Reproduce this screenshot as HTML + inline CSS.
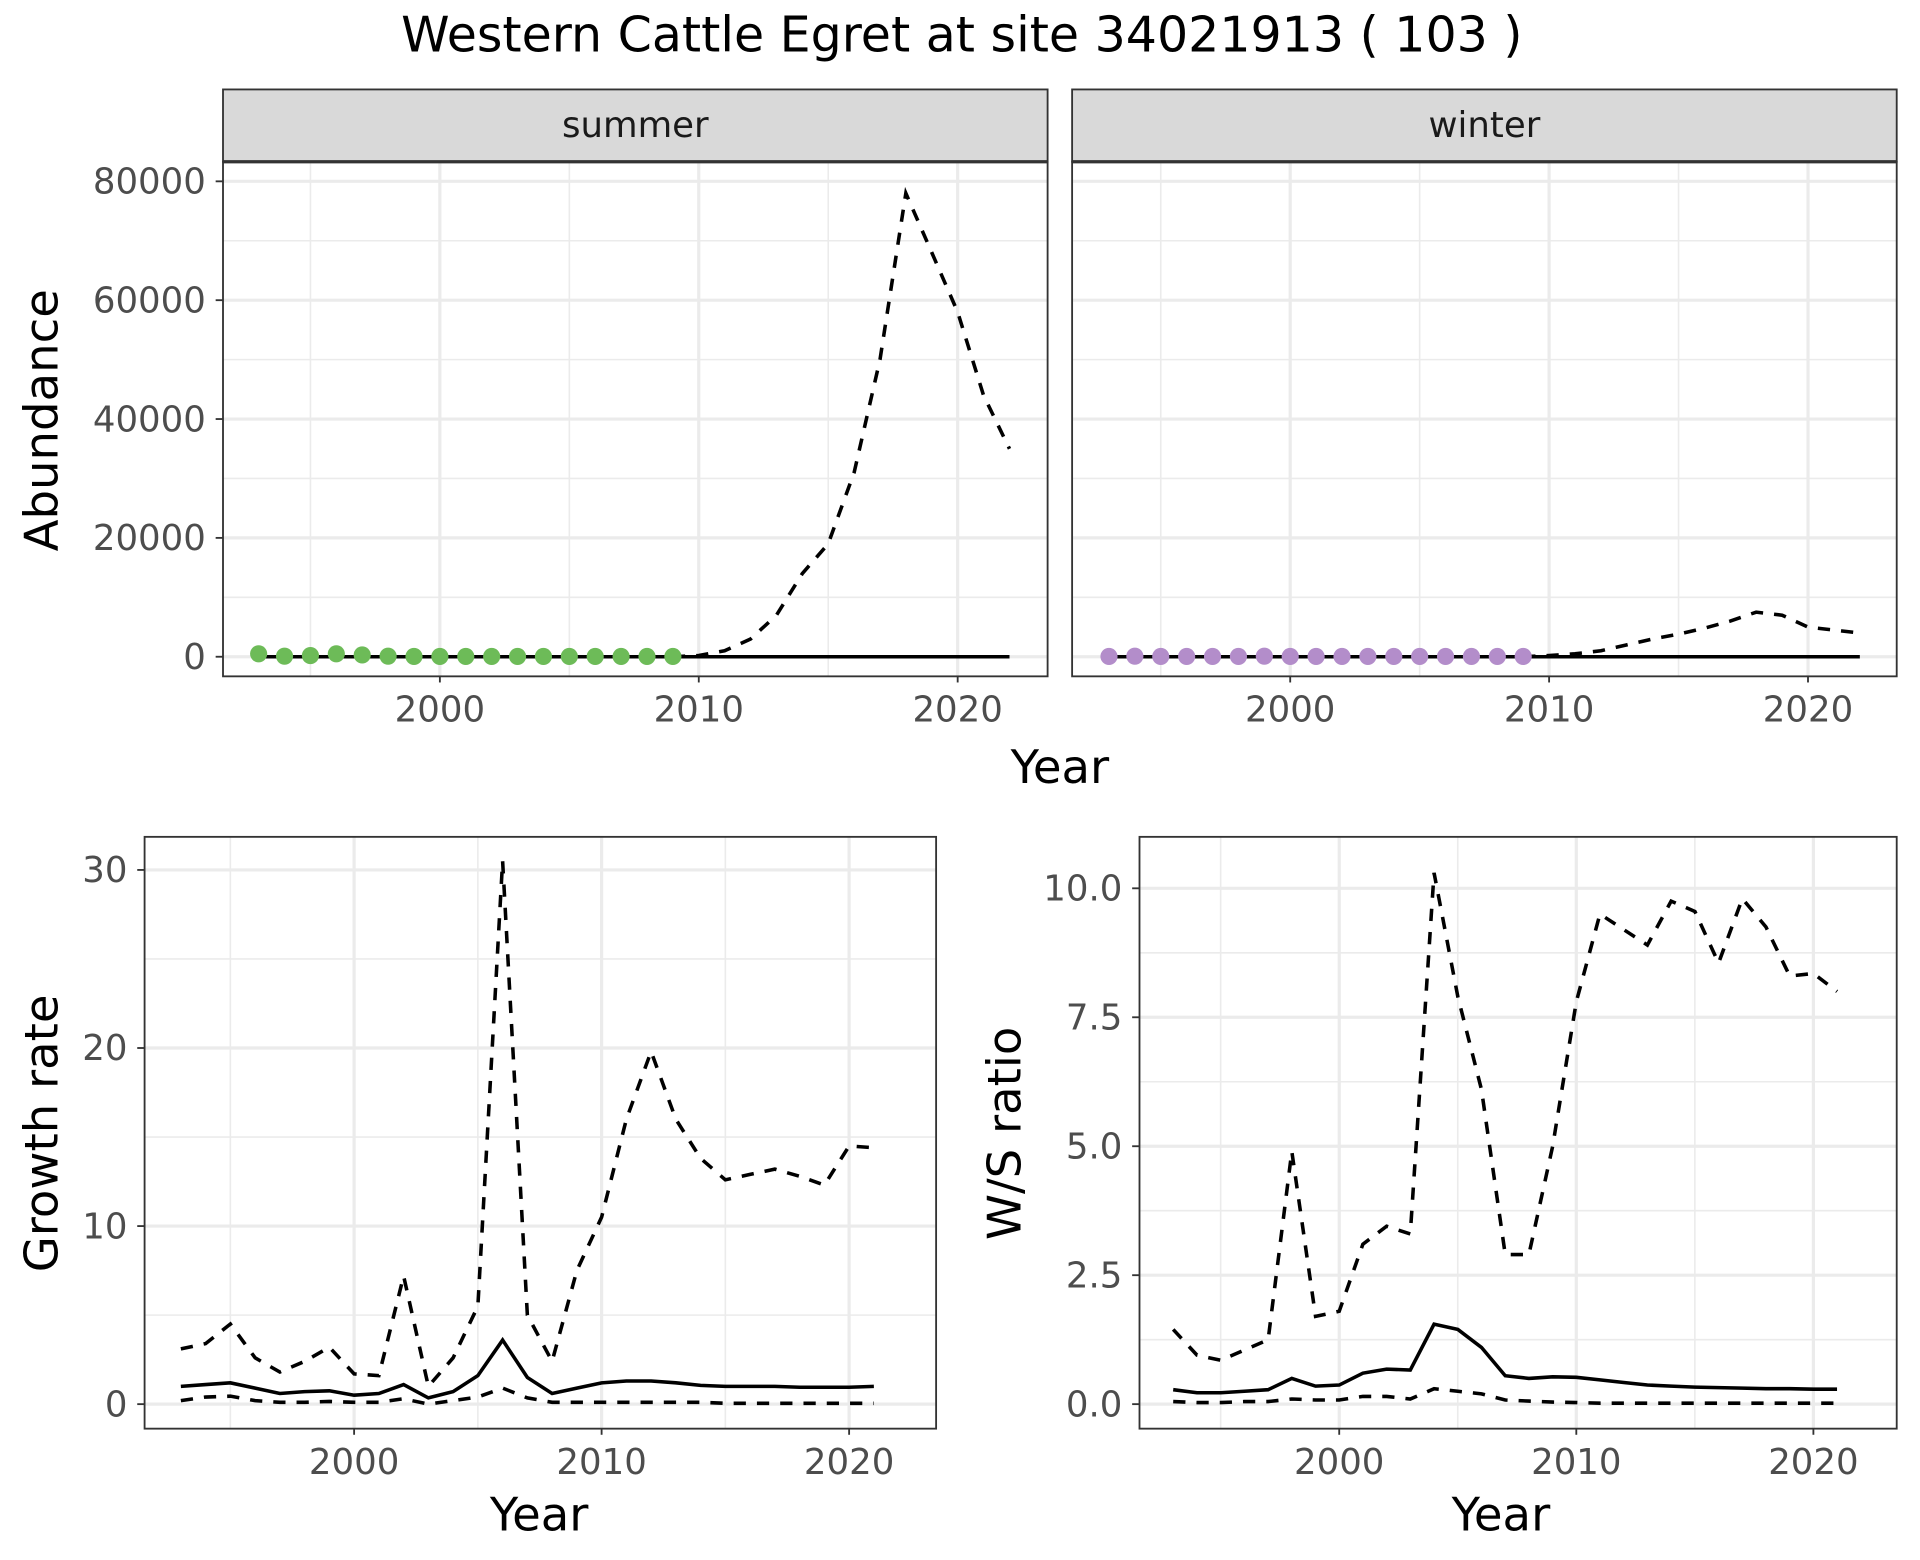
<!DOCTYPE html>
<html><head><meta charset="utf-8"><style>
html,body{margin:0;padding:0;background:#fff}
svg{display:block;font-family:"DejaVu Sans","Liberation Sans",sans-serif}
</style></head><body>
<svg id="c" width="1920" height="1560" viewBox="0 0 1567 1273.2" xmlns="http://www.w3.org/2000/svg"></svg>
<script>
const years = [1993,1994,1995,1996,1997,1998,1999,2000,2001,2002,2003,2004,2005,2006,2007,2008,2009,2010,2011,2012,2013,2014,2015,2016,2017,2018,2019,2020,2021,2022];
const obsYears = [1993,1994,1995,1996,1997,1998,1999,2000,2001,2002,2003,2004,2005,2006,2007,2008,2009];
const summerObs = [500,100,200,500,300,100,50,50,50,50,50,50,50,50,50,50,50];
const winterObs = [50,100,50,50,50,50,100,50,50,50,50,50,50,50,50,50,50];
const projYears = [2009,2010,2011,2012,2013,2014,2015,2016,2017,2018,2019,2020,2021,2022];
const summerUpper = [0,200,1000,3000,7000,14000,19000,31000,50000,78000,68000,58000,44000,35000];
const summerMid = [0,0,0,0,0,0,0,0,0,0,0,0,0,0];
const winterUpper = [0,200,500,1000,2000,3000,3800,4800,6000,7500,7000,5000,4500,4000];
const winterMid = [0,0,0,0,0,0,0,0,0,0,0,0,0,0];
const grYears = [1993,1994,1995,1996,1997,1998,1999,2000,2001,2002,2003,2004,2005,2006,2007,2008,2009,2010,2011,2012,2013,2014,2015,2016,2017,2018,2019,2020,2021];
const grUpper = [3.1,3.4,4.5,2.6,1.8,2.4,3.2,1.7,1.6,7.2,1.0,2.6,5.5,30.5,5.0,2.4,7.5,10.5,16,19.8,16.0,13.8,12.6,12.9,13.2,12.8,12.3,14.5,14.4];
const grMid = [1.0,1.1,1.2,0.9,0.6,0.7,0.75,0.5,0.6,1.1,0.35,0.7,1.6,3.6,1.5,0.6,0.9,1.2,1.3,1.3,1.2,1.05,1.0,1.0,1.0,0.95,0.95,0.95,1.0];
const grLower = [0.2,0.4,0.45,0.2,0.1,0.1,0.15,0.1,0.1,0.3,0.0,0.2,0.4,0.9,0.35,0.1,0.1,0.1,0.1,0.1,0.1,0.1,0.05,0.05,0.05,0.05,0.05,0.05,0.05];
const wsUpper = [1.45,0.95,0.85,1.05,1.25,4.9,1.7,1.8,3.1,3.45,3.3,10.3,7.9,6.1,2.9,2.9,5.0,7.8,9.5,9.2,8.9,9.75,9.55,8.55,9.8,9.25,8.3,8.35,8.0];
const wsMid = [0.28,0.22,0.22,0.25,0.28,0.5,0.35,0.37,0.6,0.68,0.66,1.55,1.45,1.1,0.55,0.5,0.53,0.52,0.47,0.42,0.37,0.35,0.33,0.32,0.31,0.3,0.3,0.29,0.29];
const wsLower = [0.05,0.03,0.03,0.05,0.05,0.1,0.08,0.08,0.15,0.15,0.1,0.3,0.25,0.2,0.08,0.06,0.04,0.03,0.02,0.02,0.02,0.02,0.02,0.02,0.02,0.02,0.02,0.02,0.02];
const xTicks = [2000,2010,2020];
const abTicks = [0,20000,40000,60000,80000];
const abLabels = ["0","20000","40000","60000","80000"];
const grTicks = [0,10,20,30];
const grLabels = ["0","10","20","30"];
const wsTicks = [0,2.5,5,7.5,10];
const wsLabels = ["0.0","2.5","5.0","7.5","10.0"];

const svg = document.getElementById('c');
const NS = 'http://www.w3.org/2000/svg';
function mk(tag, attrs, parent){const e=document.createElementNS(NS,tag);for(const k in attrs)e.setAttribute(k,attrs[k]);(parent||svg).appendChild(e);return e;}
function lin(d0,d1,r0,r1){return v=>r0+(v-d0)/(d1-d0)*(r1-r0);}

function panel(o){
  const g=mk('g',{});
  
  
  mk('rect',{x:o.x0,y:o.y0,width:o.x1-o.x0,height:o.y1-o.y0,fill:'#fff'},g);
  for(let i=0;i<o.yt.length-1;i++){const v=(o.yt[i]+o.yt[i+1])/2;mk('line',{x1:o.x0,x2:o.x1,y1:o.sy(v),y2:o.sy(v),stroke:'#ebebeb','stroke-width':1.3},g);}
  const topMinor=o.yt[o.yt.length-1]+(o.yt[1]-o.yt[0])/2; if(o.sy(topMinor)>o.y0) mk('line',{x1:o.x0,x2:o.x1,y1:o.sy(topMinor),y2:o.sy(topMinor),stroke:'#ebebeb','stroke-width':1.3},g);
  for(const v of [1995,2005,2015]){mk('line',{x1:o.sx(v),x2:o.sx(v),y1:o.y0,y2:o.y1,stroke:'#ebebeb','stroke-width':1.3},g);}
  o.yt.forEach(v=>mk('line',{x1:o.x0,x2:o.x1,y1:o.sy(v),y2:o.sy(v),stroke:'#ebebeb','stroke-width':2.6},g));
  xTicks.forEach(v=>mk('line',{x1:o.sx(v),x2:o.sx(v),y1:o.y0,y2:o.y1,stroke:'#ebebeb','stroke-width':2.6},g));
  o.draw(g);
  mk('rect',{x:o.x0,y:o.y0,width:o.x1-o.x0,height:o.y1-o.y0,fill:'none',stroke:'#333','stroke-width':1.5},g);
  xTicks.forEach(v=>{mk('line',{x1:o.sx(v),x2:o.sx(v),y1:o.y1,y2:o.y1+5,stroke:'#333','stroke-width':1.5},g);
    const t=mk('text',{x:o.sx(v),y:o.y1+37,'text-anchor':'middle','font-size':29,fill:'#4d4d4d'},g);t.textContent=v;});
  if(o.ylab){o.yt.forEach((v,i)=>{mk('line',{x1:o.x0-6,x2:o.x0,y1:o.sy(v),y2:o.sy(v),stroke:'#333','stroke-width':1.5},g);
    const t=mk('text',{x:o.x0-14,y:o.sy(v)+10,'text-anchor':'end','font-size':29,fill:'#4d4d4d'},g);t.textContent=o.ylab[i];});}
}
function line(g,xs,ys,sx,sy,dash,name){
  const d=xs.map((x,i)=>(i?'L':'M')+sx(x).toFixed(1)+','+sy(ys[i]).toFixed(1)).join('');
  const p=mk('path',{d:d,fill:'none',stroke:'#000','stroke-width':2.9,'stroke-dasharray':dash?'10,9':'none'},g);
  
  
}
function pts(g,xs,ys,sx,sy,col,name){
  xs.forEach((x,i)=>{const c=mk('circle',{cx:sx(x),cy:sy(ys[i]),r:7,fill:col},g);
    
    });
}

const absy=lin(0,80000,536,148);
[{x0:182,x1:855,label:'summer',lx:359,up:summerUpper,mid:summerMid,obs:summerObs,col:'#6dbb58',ylab:abLabels},
 {x0:875,x1:1548,label:'winter',lx:1053,up:winterUpper,mid:winterMid,obs:winterObs,col:'#b38dca',ylab:null}].forEach(p=>{
  const sx=lin(2000,2010,p.lx,p.lx+211.3);
  panel({name:p.label+'-panel',x0:p.x0,x1:p.x1,y0:132,y1:552,sx:sx,sy:absy,yt:abTicks,ylab:p.ylab,draw:g=>{
    line(g,projYears,p.up,sx,absy,true,p.label+'-upper-dashed');
    line(g,obsYears,p.obs.map(()=>0),sx,absy,false,p.label+'-obs-line');
    line(g,projYears,p.mid,sx,absy,false,p.label+'-projection-line');
    pts(g,obsYears,p.obs,sx,absy,p.col,p.label+'-observation-point');
  }});
  const s=mk('rect',{x:p.x0,y:73,width:p.x1-p.x0,height:59,fill:'#d9d9d9',stroke:'#333','stroke-width':1.5});
  
  
  mk('line',{x1:p.x0,x2:p.x1,y1:132,y2:132,stroke:'#333','stroke-width':2.6});
  const t=mk('text',{x:(p.x0+p.x1)/2,y:112,'text-anchor':'middle','font-size':29,fill:'#1a1a1a'});t.textContent=p.label;
});

const gsx=lin(2000,2010,289,491), gsy=lin(0,30,1146,710);
panel({name:'growth-rate-panel',x0:118,x1:764,y0:683,y1:1166,sx:gsx,sy:gsy,yt:grTicks,ylab:grLabels,draw:g=>{
  line(g,grYears,grUpper,gsx,gsy,true,'growth-upper');
  line(g,grYears,grMid,gsx,gsy,false,'growth-mid');
  line(g,grYears,grLower,gsx,gsy,true,'growth-lower');
}});
const wsx=lin(2000,2010,1093,1286.5), wsy=lin(0,10,1146,725);
panel({name:'ws-ratio-panel',x0:930,x1:1548,y0:683,y1:1166,sx:wsx,sy:wsy,yt:wsTicks,ylab:wsLabels,draw:g=>{
  line(g,grYears,wsUpper,wsx,wsy,true,'ws-upper');
  line(g,grYears,wsMid,wsx,wsy,false,'ws-mid');
  line(g,grYears,wsLower,wsx,wsy,true,'ws-lower');
}});

function txt(s,x,y,size,name,rot){const t=mk('text',{x:x,y:y,'text-anchor':'middle','font-size':size,fill:'#000'});
  if(rot)t.setAttribute('transform','rotate(-90 '+x+' '+y+')');t.textContent=s;
  
  }
txt('Western Cattle Egret at site 34021913 ( 103 )',785,42,40,'chart-title');
txt('Year',865,639,38,'top-x-axis-title');
txt('Abundance',47,343,38,'abundance-y-axis-title',true);
txt('Year',440,1249,38,'growth-x-axis-title');
txt('Growth rate',47,925,38,'growth-y-axis-title',true);
txt('Year',1225,1249,38,'ws-x-axis-title');
txt('W/S ratio',833,925,38,'ws-y-axis-title',true);
</script>
</body></html>
